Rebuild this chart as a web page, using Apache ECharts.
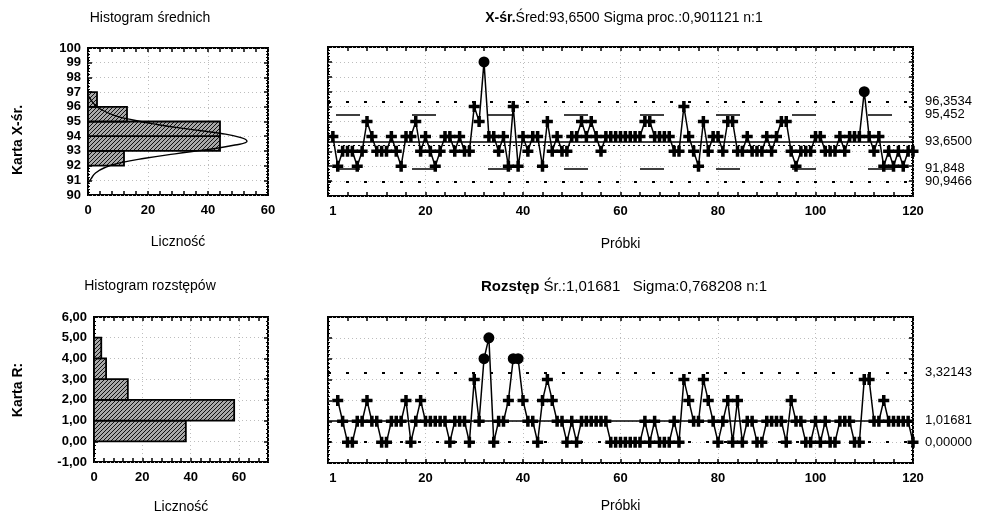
<!DOCTYPE html>
<html><head><meta charset="utf-8">
<script src="https://cdn.jsdelivr.net/npm/echarts@6/dist/echarts.min.js"></script>
<style>html,body{margin:0;padding:0;background:#fff}#c{width:985px;height:519px}</style>
</head><body><div id="c"></div>
<script>
// ---- data ----
const xValues = [94,92,93,93,93,92,93,95,94,93,
 93,93,94,93,92,94,94,95,93,94,
 93,92,93,94,94,93,94,93,93,96,
 95,99,94,94,93,94,92,96,92,94,
 93,94,94,92,95,93,94,93,93,94,
 94,95,94,95,94,93,94,94,94,94,
 94,94,94,94,95,95,94,94,94,94,
 93,93,96,94,93,92,95,93,94,94,
 93,95,95,93,93,94,93,93,93,94,
 93,94,95,95,93,92,93,93,93,94,
 94,93,93,93,94,93,94,94,94,97,
 94,93,94,92,93,92,93,92,93,93];
// moving ranges, samples 2..120
const rValues = [2,1,0,0,1,1,2,1,1,0,
 0,1,1,1,2,0,1,2,1,1,
 1,1,1,0,1,1,1,0,3,1,
 4,5,0,1,1,2,4,4,2,1,
 1,0,2,3,2,1,1,0,1,0,
 1,1,1,1,1,1,0,0,0,0,
 0,0,0,1,0,1,0,0,0,1,
 0,3,2,1,1,3,2,1,0,1,
 2,0,2,0,1,1,0,0,1,1,
 1,1,0,2,1,1,0,0,1,0,
 1,0,0,1,1,1,0,0,3,3,
 1,1,2,1,1,1,1,1,0];
const sampleTicks = [1,20,40,60,80,100,120];
const xLimits = [96.3534, 95.452, 93.65, 91.848, 90.9466];
const xLimitLabels = ['96,3534','95,452','93,6500','91,848','90,9466'];
const rLimits = [3.32143, 1.01681, 0];
const rLimitLabels = ['3,32143','1,01681','0,00000'];
const xHistLo = [92,93,94,95,96];
const xHistHi = [93,94,95,96,97];
const xHistCounts = [12,44,44,13,3];
const rHistLo = [0,1,2,3,4];
const rHistHi = [1,2,3,4,5];
const rHistCounts = [38,58,14,5,3];
const curveValues = [90.8,91.1,91.5,91.9,92.2,92.5,92.8,93.1,93.4,93.65,93.9,94.2,94.5,94.8,95.1,95.4,95.8,96.2,96.7];
const curveCounts = [0,1,2.5,6,11,19,29,40,49,53,51,44,33,23,15,9,4.5,2,0.3];

// ---- rendering ----
const FONT = 'Liberation Sans, Arial, sans-serif';
const chart = echarts.init(document.getElementById('c'), null, {renderer:'canvas'});
const plus = 'path://M3.4,0H6.6V3.4H10V6.6H6.6V10H3.4V6.6H0V3.4H3.4Z';

const pc = document.createElement('canvas'); pc.width = 4; pc.height = 4;
const g = pc.getContext('2d');
g.fillStyle = '#a9a9a9'; g.fillRect(0,0,4,4);
g.strokeStyle = '#111'; g.lineWidth = 1;
g.beginPath(); g.moveTo(0,4); g.lineTo(4,0); g.moveTo(-1,1); g.lineTo(1,-1); g.moveTo(3,5); g.lineTo(5,3); g.stroke();
const hatch = {image: pc, repeat: 'repeat'};

const tickLbl = {fontFamily: FONT, fontSize: 13, fontWeight: 'bold', color: '#000'};
const faint = {show: true, lineStyle: {color: '#bdbdbd', width: 1, type: [1, 3]}};
const DOTS = [3, 15], LONG = [24, 52];
const nameStyle = {fontFamily:FONT, fontSize:14, color:'#000'};

function xAxes(grid, min, max, interval, opts) {
  return [
    Object.assign({type:'value', gridIndex:grid, min, max, interval, position:'bottom',
      axisLine:{show:false, onZero:false}, axisTick:{show:true, inside:true, length:4, lineStyle:{color:'#000', width:1.5}},
      minorTick:{show:true, splitNumber:5, length:4, lineStyle:{color:'#000', width:1.5}},
      splitLine: faint, axisLabel: Object.assign({margin:9}, tickLbl)}, opts || {}),
    {type:'value', gridIndex:grid, min, max, interval, position:'top',
      axisLine:{show:false, onZero:false}, axisTick:{show:true, inside:true, length:4, lineStyle:{color:'#000', width:1.5}},
      minorTick:{show:true, splitNumber:5, length:4, lineStyle:{color:'#000', width:1.5}},
      splitLine:{show:false}, axisLabel:{show:false}}
  ];
}
function yAxes(grid, min, max, opts) {
  return [
    Object.assign({type:'value', gridIndex:grid, min, max, interval:1, position:'left',
      axisLine:{show:false, onZero:false}, axisTick:{show:true, inside:true, length:4, lineStyle:{color:'#000', width:1.5}},
      minorTick:{show:true, splitNumber:5, length:2, lineStyle:{color:'#000', width:1}},
      splitLine: faint, axisLabel: Object.assign({margin:7}, tickLbl)}, opts || {}),
    {type:'value', gridIndex:grid, min, max, interval:1, position:'right',
      axisLine:{show:false, onZero:false}, axisTick:{show:true, inside:true, length:4, lineStyle:{color:'#000', width:1.5}},
      minorTick:{show:true, splitNumber:5, length:2, lineStyle:{color:'#000', width:1}},
      splitLine:{show:false}, axisLabel:{show:false}}
  ];
}

const xAxisList = [].concat(
  xAxes(0, 0, 60, 20, {name:'Liczność', nameLocation:'middle', nameGap:40, nameTextStyle:nameStyle}),
  xAxes(1, 0, 120, 20, {name:'Próbki', nameLocation:'middle', nameGap:41, nameTextStyle:nameStyle,
    axisLabel: Object.assign({margin:9, customValues: sampleTicks}, tickLbl)}),
  xAxes(2, 0, 72, 20, {name:'Liczność', nameLocation:'middle', nameGap:38, nameTextStyle:nameStyle,
    axisLabel: Object.assign({margin:9, showMaxLabel:false}, tickLbl)}),
  xAxes(3, 0, 120, 20, {name:'Próbki', nameLocation:'middle', nameGap:36, nameTextStyle:nameStyle,
    axisLabel: Object.assign({margin:9, customValues: sampleTicks}, tickLbl)})
);
const commaFmt = v => v.toFixed(2).replace('.', ',');
const yAxisList = [].concat(
  yAxes(0, 90, 100),
  yAxes(1, 90, 100, {axisLabel:{show:false}}),
  yAxes(2, -1, 6, {axisLabel: Object.assign({margin:7, formatter: commaFmt}, tickLbl)}),
  yAxes(3, -1, 6, {axisLabel:{show:false}})
);

function histSeries(xi, yi, lo, hi, counts) {
  return {
    type:'custom', xAxisIndex:xi, yAxisIndex:yi,
    data: counts.map((c, k) => [lo[k], hi[k], c]),
    encode: {x: 2, y: [0, 1]},
    renderItem: function (params, api) {
      const a = api.coord([0, api.value(1)]);
      const b = api.coord([api.value(2), api.value(0)]);
      return {type:'rect', shape:{x:a[0], y:a[1], width:b[0]-a[0], height:b[1]-a[1]},
        style:{fill: hatch, stroke:'#000', lineWidth:1.8}};
    }, silent: true
  };
}

function limitLines(values, labels, styles) {
  return {
    silent: true, symbol: 'none', animation: false,
    data: values.map((v, k) => ({yAxis: v,
      lineStyle: styles[k],
      label: {show: true, position:'end', distance: 12, formatter: labels[k],
        fontFamily: FONT, fontSize: 13, color: '#000'}}))
  };
}

const xUCL = xLimits[0], xLCL = xLimits[4];
const xData = xValues.map((v, i) => {
  const out = v > xUCL || v < xLCL;
  return {value:[i + 1, v], symbol: out ? 'circle' : plus, symbolSize: out ? 11 : 11};
});
const rUCL = rLimits[0];
const rData = rValues.map((v, i) => {
  const out = v > rUCL;
  return {value:[i + 2, v], symbol: out ? 'circle' : plus, symbolSize: out ? 11 : 11};
});

const xStyles = [
  {color:'#000', width:2, type: DOTS},
  {color:'#000', width:1.5, type: LONG, dashOffset: -8},
  {color:'#000', width:1.5, type:'solid'},
  {color:'#000', width:1.5, type: LONG, dashOffset: -8},
  {color:'#000', width:2, type: DOTS}
];
const rStyles = [
  {color:'#000', width:2, type: DOTS},
  {color:'#000', width:1.5, type:'solid'},
  {color:'#000', width:2, type: DOTS}
];

const option = {
  backgroundColor: '#fff',
  animation: false,
  grid: [
    {left:88, top:48, width:180, height:147, show:true, borderColor:'#000', borderWidth:2, backgroundColor:'transparent'},
    {left:328, top:47, width:585, height:149, show:true, borderColor:'#000', borderWidth:2, backgroundColor:'transparent'},
    {left:94, top:317, width:174, height:145, show:true, borderColor:'#000', borderWidth:2, backgroundColor:'transparent'},
    {left:328, top:317, width:585, height:146, show:true, borderColor:'#000', borderWidth:2, backgroundColor:'transparent'}
  ],
  xAxis: xAxisList,
  yAxis: yAxisList,
  series: [
    histSeries(0, 0, xHistLo, xHistHi, xHistCounts),
    {type:'line', xAxisIndex:0, yAxisIndex:0, data: curveValues.map((v, k) => [curveCounts[k], v]),
      smooth: 0.5, showSymbol:false, lineStyle:{color:'#000', width:1.4}, silent:true},
    {type:'line', xAxisIndex:2, yAxisIndex:2, data: xValues.map((v, i) => [i + 1, v]), showSymbol:false,
      lineStyle:{width:0}, silent:true,
      markLine: {silent:true, symbol:'none', data:[{yAxis:93.42, lineStyle:{color:'#000', width:1, type:[2,3]}, label:{show:false}}]}},
    {type:'line', xAxisIndex:2, yAxisIndex:2, data: xData, showAllSymbol:true,
      lineStyle:{color:'#000', width:1.5}, itemStyle:{color:'#000'}, silent:true,
      markLine: limitLines(xLimits, xLimitLabels, xStyles)},
    histSeries(4, 4, rHistLo, rHistHi, rHistCounts),
    {type:'line', xAxisIndex:6, yAxisIndex:6, data: rData, showAllSymbol:true,
      lineStyle:{color:'#000', width:1.5}, itemStyle:{color:'#000'}, silent:true,
      markLine: limitLines(rLimits, rLimitLabels, rStyles)}
  ],
  graphic: [
    {type:'text', x:150, y:18, style:{text:'Histogram średnich', font:'14px ' + FONT, fill:'#000', align:'center', verticalAlign:'middle'}},
    {type:'text', x:624, y:18, style:{text:'{b|X-śr.}{n|Śred:93,6500 Sigma proc.:0,901121 n:1}', align:'center', verticalAlign:'middle',
      rich:{b:{fontFamily:FONT, fontSize:14, fontWeight:'bold', fill:'#000'}, n:{fontFamily:FONT, fontSize:14, fill:'#000'}}}},
    {type:'text', x:150, y:286, style:{text:'Histogram rozstępów', font:'14px ' + FONT, fill:'#000', align:'center', verticalAlign:'middle'}},
    {type:'text', x:624, y:287, style:{text:'{b|Rozstęp}{n| Śr.:1,01681   Sigma:0,768208 n:1}', align:'center', verticalAlign:'middle',
      rich:{b:{fontFamily:FONT, fontSize:15, fontWeight:'bold', fill:'#000'}, n:{fontFamily:FONT, fontSize:15, fill:'#000'}}}},
    {type:'text', x:18, y:140, rotation:Math.PI/2, style:{text:'Karta X-śr.', font:'bold 14px ' + FONT, fill:'#000', align:'center', verticalAlign:'middle'}},
    {type:'text', x:18, y:390, rotation:Math.PI/2, style:{text:'Karta R:', font:'bold 14px ' + FONT, fill:'#000', align:'center', verticalAlign:'middle'}}
  ]
};
chart.setOption(option);
</script></body></html>
